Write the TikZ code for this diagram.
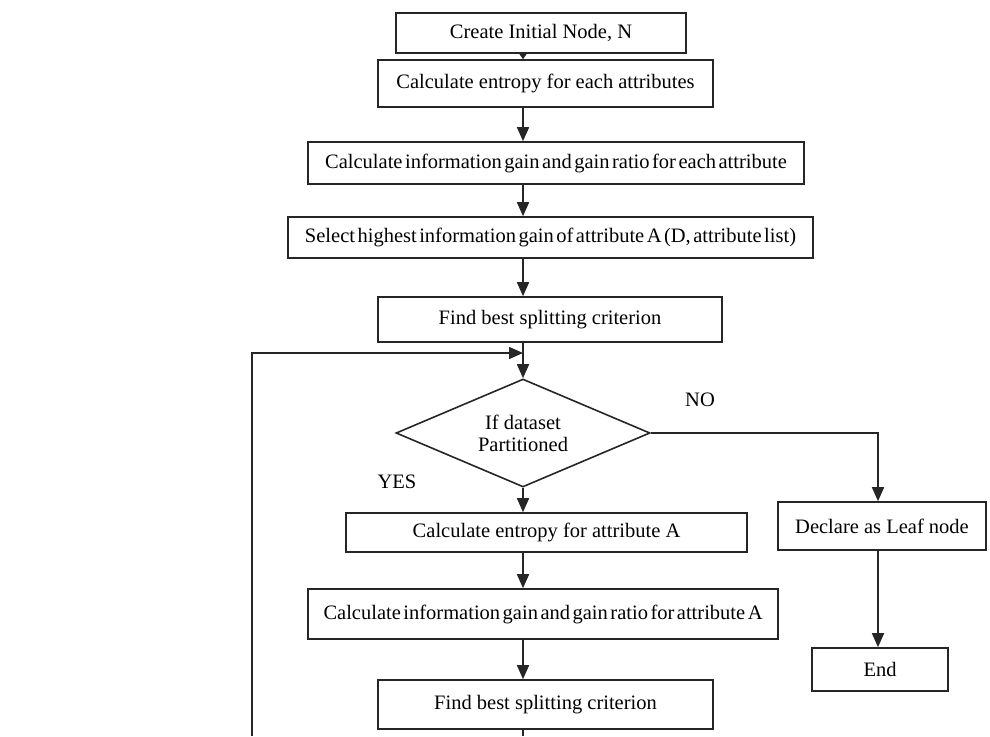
\documentclass[tikz,border=0pt]{standalone}
\usepackage{fontspec}
\setmainfont{Liberation Serif}
\usetikzlibrary{shapes.geometric,arrows.meta}
\newcommand\tightspacing{\spaceskip=2.5pt plus 0.5pt minus 0.5pt\relax}
\begin{document}
\begin{tikzpicture}[x=1pt,y=-1pt,
  txt/.style={font=\fontsize{20.5}{22}\selectfont},
  box/.style={draw=black!85, line width=1.6pt, rectangle, inner sep=0pt, txt},
  tight/.style={execute at begin node=\tightspacing},
  dec/.style={draw=black!85, line width=1.6pt, diamond, aspect=2.35, inner sep=0pt, align=center, txt},
  ln/.style={draw=black!85, line width=1.6pt},
  arr/.style={ln, -{Triangle[length=14pt,width=12pt]}},
  sarr/.style={ln, -{Triangle[length=6pt,width=8pt]}},
  lbl/.style={inner sep=0pt, txt}]
\useasboundingbox (0,0) rectangle (990,736);
\coordinate (col) at (523,0);
\coordinate (rc) at (878,0);
\node[box, minimum width=290pt, minimum height=40pt] (b1) at (541,33) {Create Initial Node, N};
\node[box, minimum width=335pt, minimum height=47pt] (b2) at (545.5,83.5) {Calculate entropy for each attributes};
\node[box, tight, minimum width=496pt, minimum height=42pt] (b3) at (556,163) {Calculate information gain and gain ratio for each attribute};
\node[box, tight, minimum width=525pt, minimum height=41pt] (b4) at (550.5,237.5) {Select highest information gain of attribute A (D, attribute list)};
\node[box, minimum width=344pt, minimum height=45pt] (b5) at (550,319.5) {Find best splitting criterion};
\node[dec, minimum width=254pt, minimum height=108pt] (d) at (523,433) {If dataset\\Partitioned};
\node[box, minimum width=401pt, minimum height=39pt] (b6) at (546.5,532.5) {Calculate entropy for attribute A};
\node[box, tight, minimum width=470pt, minimum height=50pt] (b7) at (543,614) {Calculate information gain and gain ratio for attribute A};
\node[box, minimum width=335pt, minimum height=49pt] (b8) at (545.5,704.5) {Find best splitting criterion};
\node[box, minimum width=208pt, minimum height=48pt] (leaf) at (882,526) {Declare as Leaf node};
\node[box, minimum width=136pt, minimum height=43pt] (end) at (880,669.5) {End};
\node[lbl] (no) at (700,400) {NO};
\node[lbl] (yes) at (397,482) {YES};
\coordinate (mb) at (523,736);
\coordinate (lb) at (252,736);
\coordinate (lt) at (252,353);
\coordinate (lj) at (523,353);
\draw[sarr] (b1.south -| col) -- (b2.north -| col);
\draw[arr] (b2.south -| col) -- (b3.north -| col);
\draw[arr] (b3.south -| col) -- (b4.north -| col);
\draw[arr] (b4.south -| col) -- (b5.north -| col);
\draw[arr] (b5.south -| col) -- (d.north);
\draw[arr] (lb) -- (lt) -- (lj);
\draw[arr] (d.south) -- (b6.north -| col);
\draw[arr] (b6.south -| col) -- (b7.north -| col);
\draw[arr] (b7.south -| col) -- (b8.north -| col);
\draw[ln] (b8.south -| col) -- (mb);
\draw[arr] (d.east) -| (leaf.north -| rc);
\draw[arr] (leaf.south -| rc) -- (end.north -| rc);
\end{tikzpicture}
\end{document}
